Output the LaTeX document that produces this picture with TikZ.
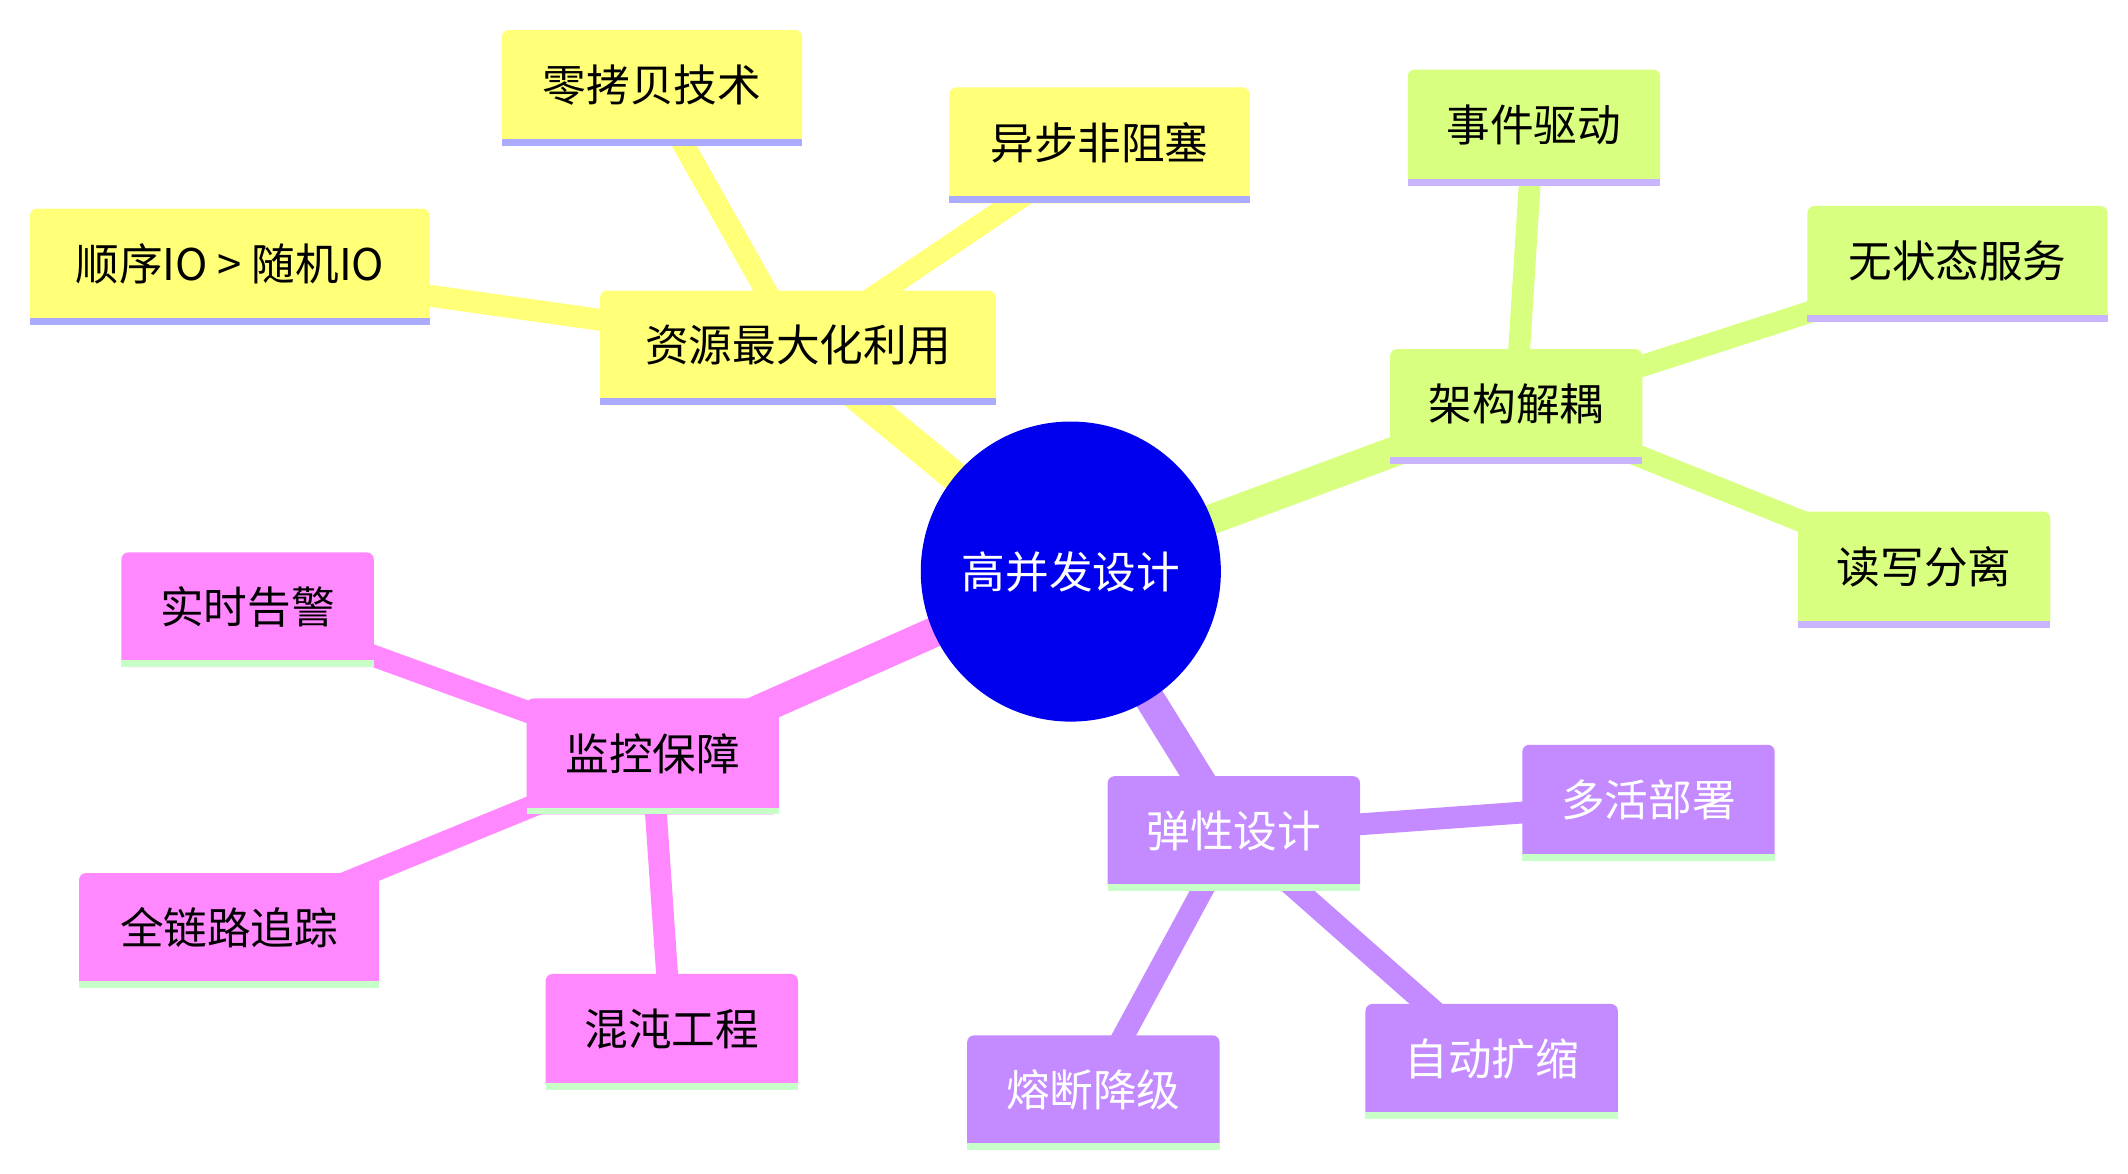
\documentclass[tikz,border=0pt]{standalone}
\usepackage{fontspec}
\newfontfamily\cjk{Noto Sans CJK SC}
\definecolor{yel}{HTML}{FFFF78}
\definecolor{grn}{HTML}{D9FF80}
\definecolor{pur}{HTML}{C38BFF}
\definecolor{pnk}{HTML}{FF88FF}
\definecolor{lav}{HTML}{AAAAFF}
\definecolor{lav2}{HTML}{C8B4FF}
\definecolor{lgr}{HTML}{C8FFC8}
\definecolor{ctr}{HTML}{0000EE}
\newcommand\mybox[9]{%
  \path[fill=#6,rounded corners=5pt] (#2,#3) rectangle (#4,#5);
  \path[fill=#7] (#2,#5-5) rectangle (#4,#5);
  \node[text=#8,font=\cjk\fontsize{32}{38}\selectfont] (#1) at ({(#2+#4)/2},{(#3+#5)/2-2}) {#9};}
\tikzset{trunk/.style={line width=22pt},twig/.style={line width=16pt}}
\begin{document}
\begin{tikzpicture}[x=1pt,y=-1pt]
\useasboundingbox (0,0) rectangle (1560,860);
\coordinate (c) at (785,419);
\coordinate (a) at (585,255);
\coordinate (a1) at (478,65);
\coordinate (a2) at (806,106);
\coordinate (a3) at (168,196);
\coordinate (b) at (1111,298);
\coordinate (b1) at (1124,94);
\coordinate (b2) at (1435,194);
\coordinate (b3) at (1410,418);
\coordinate (p) at (904,611);
\coordinate (p1) at (1208,589);
\coordinate (p2) at (1093,778);
\coordinate (p3) at (801,801);
\coordinate (m) at (478,555);
\coordinate (m1) at (181,447);
\coordinate (m2) at (168,682);
\coordinate (m3) at (492,757);
\draw[trunk,yel] (c)--(a); \draw[twig,yel] (a)--(a1) (a)--(a2) (a)--(a3);
\draw[trunk,grn] (c)--(b); \draw[twig,grn] (b)--(b1) (b)--(b2) (b)--(b3);
\draw[trunk,pur] (c)--(p); \draw[twig,pur] (p)--(p1) (p)--(p2) (p)--(p3);
\draw[trunk,pnk] (c)--(m); \draw[twig,pnk] (m)--(m1) (m)--(m2) (m)--(m3);
\fill[ctr] (c) circle (110);
\node[text=white,font=\cjk\fontsize{32}{38}\selectfont] (cn) at (785,419) {高并发设计};
\mybox{na}{440}{213}{730}{297}{yel}{lav}{black}{资源最大化利用}
\mybox{na1}{368}{22}{588}{107}{yel}{lav}{black}{零拷贝技术}
\mybox{na2}{696}{64}{916}{149}{yel}{lav}{black}{异步非阻塞}
\mybox{na3}{22}{153}{315}{238}{yel}{lav}{black}{顺序IO > 随机IO}
\mybox{nb}{1019}{256}{1204}{340}{grn}{lav2}{black}{架构解耦}
\mybox{nb1}{1032}{51}{1217}{136}{grn}{lav2}{black}{事件驱动}
\mybox{nb2}{1325}{151}{1545}{236}{grn}{lav2}{black}{无状态服务}
\mybox{nb3}{1318}{375}{1503}{460}{grn}{lav2}{black}{读写分离}
\mybox{np}{812}{569}{997}{653}{pur}{lgr}{white}{弹性设计}
\mybox{np1}{1116}{546}{1301}{631}{pur}{lgr}{white}{多活部署}
\mybox{np2}{1001}{736}{1186}{820}{pur}{lgr}{white}{自动扩缩}
\mybox{np3}{709}{759}{894}{843}{pur}{lgr}{white}{熔断降级}
\mybox{nm}{386}{512}{571}{597}{pnk}{lgr}{black}{监控保障}
\mybox{nm1}{89}{405}{274}{489}{pnk}{lgr}{black}{实时告警}
\mybox{nm2}{58}{640}{278}{724}{pnk}{lgr}{black}{全链路追踪}
\mybox{nm3}{400}{714}{585}{799}{pnk}{lgr}{black}{混沌工程}
\end{tikzpicture}
\end{document}
